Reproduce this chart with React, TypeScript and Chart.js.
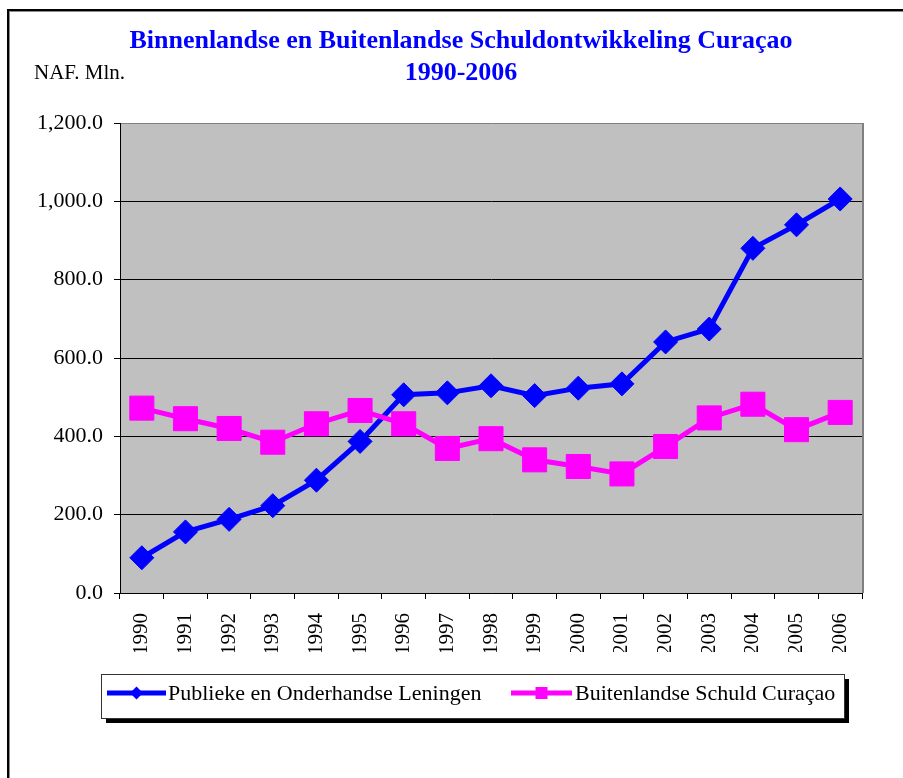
import React, { useEffect, useRef } from 'react';
import { Chart, registerables } from 'chart.js';

Chart.register(...registerables);

// ---- data ----
const years = ['1990', '1991', '1992', '1993', '1994', '1995', '1996', '1997', '1998', '1999', '2000', '2001', '2002', '2003', '2004', '2005', '2006'];
const publiekeLeningen = [90, 156, 188, 223, 288, 387, 506, 511, 529, 504, 523, 534, 641, 674, 880, 940, 1006];
const buitenlandseSchuld = [472, 445, 420, 385, 432, 466, 432, 369, 394, 340, 323, 304, 374, 447, 482, 417, 461];
const yTickValues = [0, 200, 400, 600, 800, 1000, 1200];
const seriesLabels = ['Publieke en Onderhandse Leningen', 'Buitenlandse Schuld Curaçao'];
const titleLines = ['Binnenlandse en Buitenlandse Schuldontwikkeling Curaçao', '1990-2006'];
const unitLabel = 'NAF. Mln.';

const SERIF = "'Liberation Serif', 'Times New Roman', serif";

const formatTick = (v: number) =>
  Number(v).toLocaleString('en-US', { minimumFractionDigits: 1, maximumFractionDigits: 1 });

function drawMarker(ctx: CanvasRenderingContext2D, style: string, x: number, y: number, r: number, color: string) {
  ctx.fillStyle = color;
  ctx.beginPath();
  if (style === 'rectRot') {
    ctx.moveTo(x - r, y);
    ctx.lineTo(x, y - r);
    ctx.lineTo(x + r, y);
    ctx.lineTo(x, y + r);
    ctx.closePath();
  } else {
    ctx.rect(x - r, y - r, 2 * r, 2 * r);
  }
  ctx.fill();
}

const framePlugin = {
  id: 'frame',
  beforeDraw(chart: any) {
    const { ctx, chartArea: a, width, height } = chart;
    ctx.save();
    ctx.fillStyle = '#ffffff';
    ctx.fillRect(0, 0, width, height);
    // outer border
    ctx.fillStyle = '#000000';
    ctx.fillRect(7, 9, width - 7, 2);
    ctx.fillRect(7, 9, 2, height - 9);
    ctx.fillStyle = '#8a8a8a';
    ctx.fillRect(9, 11, width - 9, 1);
    ctx.fillRect(9, 11, 1, height - 11);
    // plot background
    ctx.fillStyle = '#C0C0C0';
    ctx.fillRect(a.left, a.top, a.right - a.left, a.bottom - a.top);
    ctx.restore();
  },
  beforeDatasetsDraw(chart: any) {
    const { ctx, chartArea: a } = chart;
    ctx.save();
    ctx.strokeStyle = '#808080';
    ctx.lineWidth = 2;
    ctx.beginPath();
    ctx.moveTo(a.right + 1, a.top);
    ctx.lineTo(a.right + 1, a.bottom);
    ctx.stroke();
    ctx.restore();
  },
  afterDraw(chart: any) {
    const { ctx } = chart;
    ctx.save();
    // title
    ctx.fillStyle = '#0000FF';
    ctx.font = `bold 26px ${SERIF}`;
    ctx.textAlign = 'center';
    ctx.textBaseline = 'middle';
    ctx.fillText(titleLines[0], 461, 41);
    ctx.fillText(titleLines[1], 461, 73);
    // unit label
    ctx.fillStyle = '#000000';
    ctx.font = `21px ${SERIF}`;
    ctx.textAlign = 'left';
    ctx.fillText(unitLabel, 34, 73);

    // legend box with shadow
    const bx = 101, by = 674, bw = 743, bh = 44;
    ctx.fillStyle = '#000000';
    ctx.fillRect(bx + 5, by + 5, bw, bh);
    ctx.fillStyle = '#ffffff';
    ctx.fillRect(bx, by, bw, bh);
    ctx.strokeStyle = '#333333';
    ctx.lineWidth = 1;
    ctx.strokeRect(bx + 0.5, by + 0.5, bw, bh);

    const entries = [
      { x0: 107, x1: 166, tx: 168, r: 6.5 },
      { x0: 511, x1: 572, tx: 575, r: 6 },
    ];
    const ly = 693;
    chart.data.datasets.forEach((ds: any, i: number) => {
      const e = entries[i];
      ctx.strokeStyle = ds.borderColor;
      ctx.lineWidth = 5;
      ctx.beginPath();
      ctx.moveTo(e.x0, ly);
      ctx.lineTo(e.x1, ly);
      ctx.stroke();
      drawMarker(ctx, ds.pointStyle, (e.x0 + e.x1) / 2, ly, e.r, ds.borderColor);
      ctx.fillStyle = '#000000';
      ctx.font = `22px ${SERIF}`;
      ctx.textAlign = 'left';
      ctx.textBaseline = 'middle';
      ctx.fillText(ds.label, e.tx, ly + 1);
    });
    ctx.restore();
  },
};

export default function App() {
  const canvasRef = useRef<HTMLCanvasElement | null>(null);

  useEffect(() => {
    if (!canvasRef.current) return;
    const chart = new Chart(canvasRef.current, {
      type: 'line',
      data: {
        labels: years,
        datasets: [
          {
            label: seriesLabels[0],
            data: publiekeLeningen,
            borderColor: '#0000FF',
            backgroundColor: '#0000FF',
            borderWidth: 5,
            pointStyle: 'rectRot',
            pointRadius: 12,
            pointBorderWidth: 1,
            pointBackgroundColor: '#0000FF',
            pointBorderColor: '#0000FF',
            tension: 0,
            fill: false,
            order: 1,
          },
          {
            label: seriesLabels[1],
            data: buitenlandseSchuld,
            borderColor: '#FF00FF',
            backgroundColor: '#FF00FF',
            borderWidth: 5,
            pointStyle: 'rect',
            pointRadius: 17,
            pointBorderWidth: 1,
            pointBackgroundColor: '#FF00FF',
            pointBorderColor: '#FF00FF',
            tension: 0,
            fill: false,
            order: 0,
          },
        ],
      },
      options: {
        responsive: false,
        animation: false,
        layout: { padding: { top: 123, right: 41, bottom: 126, left: 0 } },
        plugins: {
          legend: { display: false },
          title: { display: false },
          tooltip: { enabled: false },
        },
        scales: {
          x: {
            type: 'category',
            offset: true,
            grid: {
              display: true,
              drawOnChartArea: false,
              drawTicks: true,
              tickLength: 6,
              color: '#000000',
              offset: true,
            },
            border: { display: true, color: '#000000', width: 1 },
            ticks: {
              minRotation: 90,
              maxRotation: 90,
              autoSkip: false,
              padding: 14,
              color: '#000000',
              font: { family: SERIF, size: 21 },
            },
            afterFit: (s: any) => {
              s.height = 59;
            },
          },
          y: {
            min: 0,
            max: 1200,
            afterBuildTicks: (s: any) => {
              s.ticks = yTickValues.map((v) => ({ value: v }));
            },
            grid: {
              color: (c: any) => (c.tick && c.tick.value === 1200 ? '#808080' : '#000000'),
              tickColor: '#000000',
              tickLength: 6,
              lineWidth: 1,
            },
            border: { display: true, color: '#000000', width: 1 },
            ticks: {
              padding: 11,
              color: '#000000',
              font: { family: SERIF, size: 22 },
              callback: (v: any) => formatTick(Number(v)),
            },
            afterFit: (s: any) => {
              s.width = 120;
            },
          },
        },
      },
      plugins: [framePlugin],
    });
    return () => chart.destroy();
  }, []);

  return (
    <div style={{ position: 'fixed', left: 0, top: 0, width: 903, height: 778 }}>
      <canvas ref={canvasRef} width={903} height={778} style={{ display: 'block' }} />
    </div>
  );
}
